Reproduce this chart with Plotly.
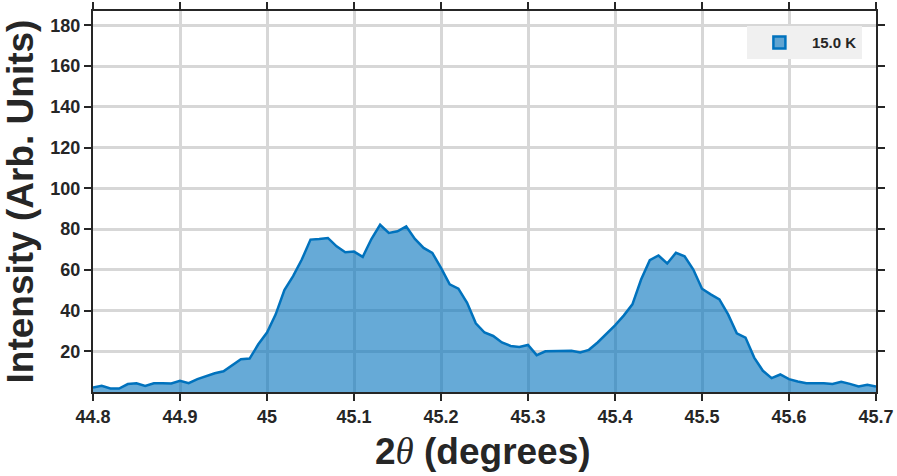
import numpy as np
import plotly.graph_objects as go

# 2-theta positions (degrees), 0.01 step
two_theta = np.round(np.arange(44.80, 45.705, 0.01), 2)

# intensity at 15.0 K (arb. units)
intensity = [
    2.2, 3.0, 1.7, 1.7, 3.9, 4.3, 3.0, 4.3, 4.3, 4.2,
    5.5, 4.3, 6.3, 7.9, 9.2, 10.2, 13.2, 16.1, 16.4, 23.4,
    29.2, 38.1, 50.0, 56.9, 65.0, 74.8, 75.1, 75.6, 71.5, 68.6,
    68.9, 66.3, 75.1, 82.1, 78.1, 78.9, 81.3, 75.1, 70.7, 68.3,
    60.9, 52.8, 50.7, 43.8, 33.7, 29.2, 27.5, 24.3, 22.6, 22.1,
    23.1, 18.1, 20.0, 20.0, 19.9, 20.2, 19.4, 20.7, 24.3, 28.3,
    32.7, 37.5, 43.0, 55.2, 64.7, 67.0, 63.1, 68.3, 66.6, 60.1,
    50.7, 47.9, 45.5, 38.1, 28.8, 26.7, 16.9, 10.4, 6.8, 8.6,
    6.3, 5.2, 4.3, 4.3, 4.3, 3.9, 5.0, 4.0, 2.7, 3.5,
    2.7,
]

x_ticks = [44.8, 44.9, 45.0, 45.1, 45.2, 45.3, 45.4, 45.5, 45.6, 45.7]
x_tick_text = ["44.8", "44.9", "45", "45.1", "45.2", "45.3", "45.4", "45.5", "45.6", "45.7"]
y_ticks = [20, 40, 60, 80, 100, 120, 140, 160, 180]

font_family = "Liberation Sans, Arial, sans-serif"
ink = "#262626"
blue = "rgb(0,114,189)"
fill_blue = "rgba(0,114,189,0.6)"

fig = go.Figure()
fig.add_trace(
    go.Scatter(
        x=two_theta,
        y=intensity,
        mode="lines",
        name="15.0 K",
        fill="tozeroy",
        fillcolor=fill_blue,
        line=dict(color=blue, width=2.5),
        showlegend=False,
    )
)
# legend entry drawn as a filled patch
fig.add_trace(
    go.Bar(
        x=[None],
        y=[None],
        name="15.0 K",
        marker=dict(color=fill_blue, line=dict(color=blue, width=2.5)),
    )
)

axis_common = dict(
    showline=True,
    linecolor=ink,
    linewidth=2,
    mirror="ticks",
    ticks="outside",
    ticklen=7,
    tickwidth=2,
    tickcolor=ink,
    showgrid=True,
    gridcolor="rgb(215,215,215)",
    gridwidth=2.5,
    zeroline=False,
    automargin=False,
    tickfont=dict(family=font_family, size=18, color=ink, weight="bold"),
)

fig.update_xaxes(range=[44.8, 45.7], tickvals=x_ticks, ticktext=x_tick_text, **axis_common)
fig.update_yaxes(range=[0, 187], tickvals=y_ticks, **axis_common)

title_font = dict(family=font_family, size=37, color=ink, weight="bold")

# axis titles
fig.add_annotation(
    text="Intensity (Arb. Units)",
    xref="paper", yref="paper",
    x=-0.092, y=0.5,
    xanchor="center", yanchor="middle",
    textangle=-90,
    showarrow=False,
    font=title_font,
)
fig.add_annotation(
    text="2<span style=\"font-family:'Liberation Serif';font-weight:normal\"><i>θ</i></span> (degrees)",
    xref="paper", yref="paper",
    x=0.498, y=-0.157,
    xanchor="center", yanchor="middle",
    showarrow=False,
    font=title_font,
)

fig.update_layout(
    width=897,
    height=476,
    margin=dict(l=93, r=21, t=11, b=84),
    plot_bgcolor="white",
    paper_bgcolor="white",
    showlegend=True,
    legend=dict(
        x=0.982,
        y=0.96,
        xanchor="right",
        yanchor="top",
        bgcolor="rgb(240,240,240)",
        font=dict(family=font_family, size=15, color=ink, weight="bold"),
        itemwidth=55,
        borderwidth=0,
    ),
)

# drop the default body margin so the figure fills the window exactly
fig.write_html(
    "out.html",
    config={"displayModeBar": False},
    post_script="document.body.style.margin='0px';",
)
